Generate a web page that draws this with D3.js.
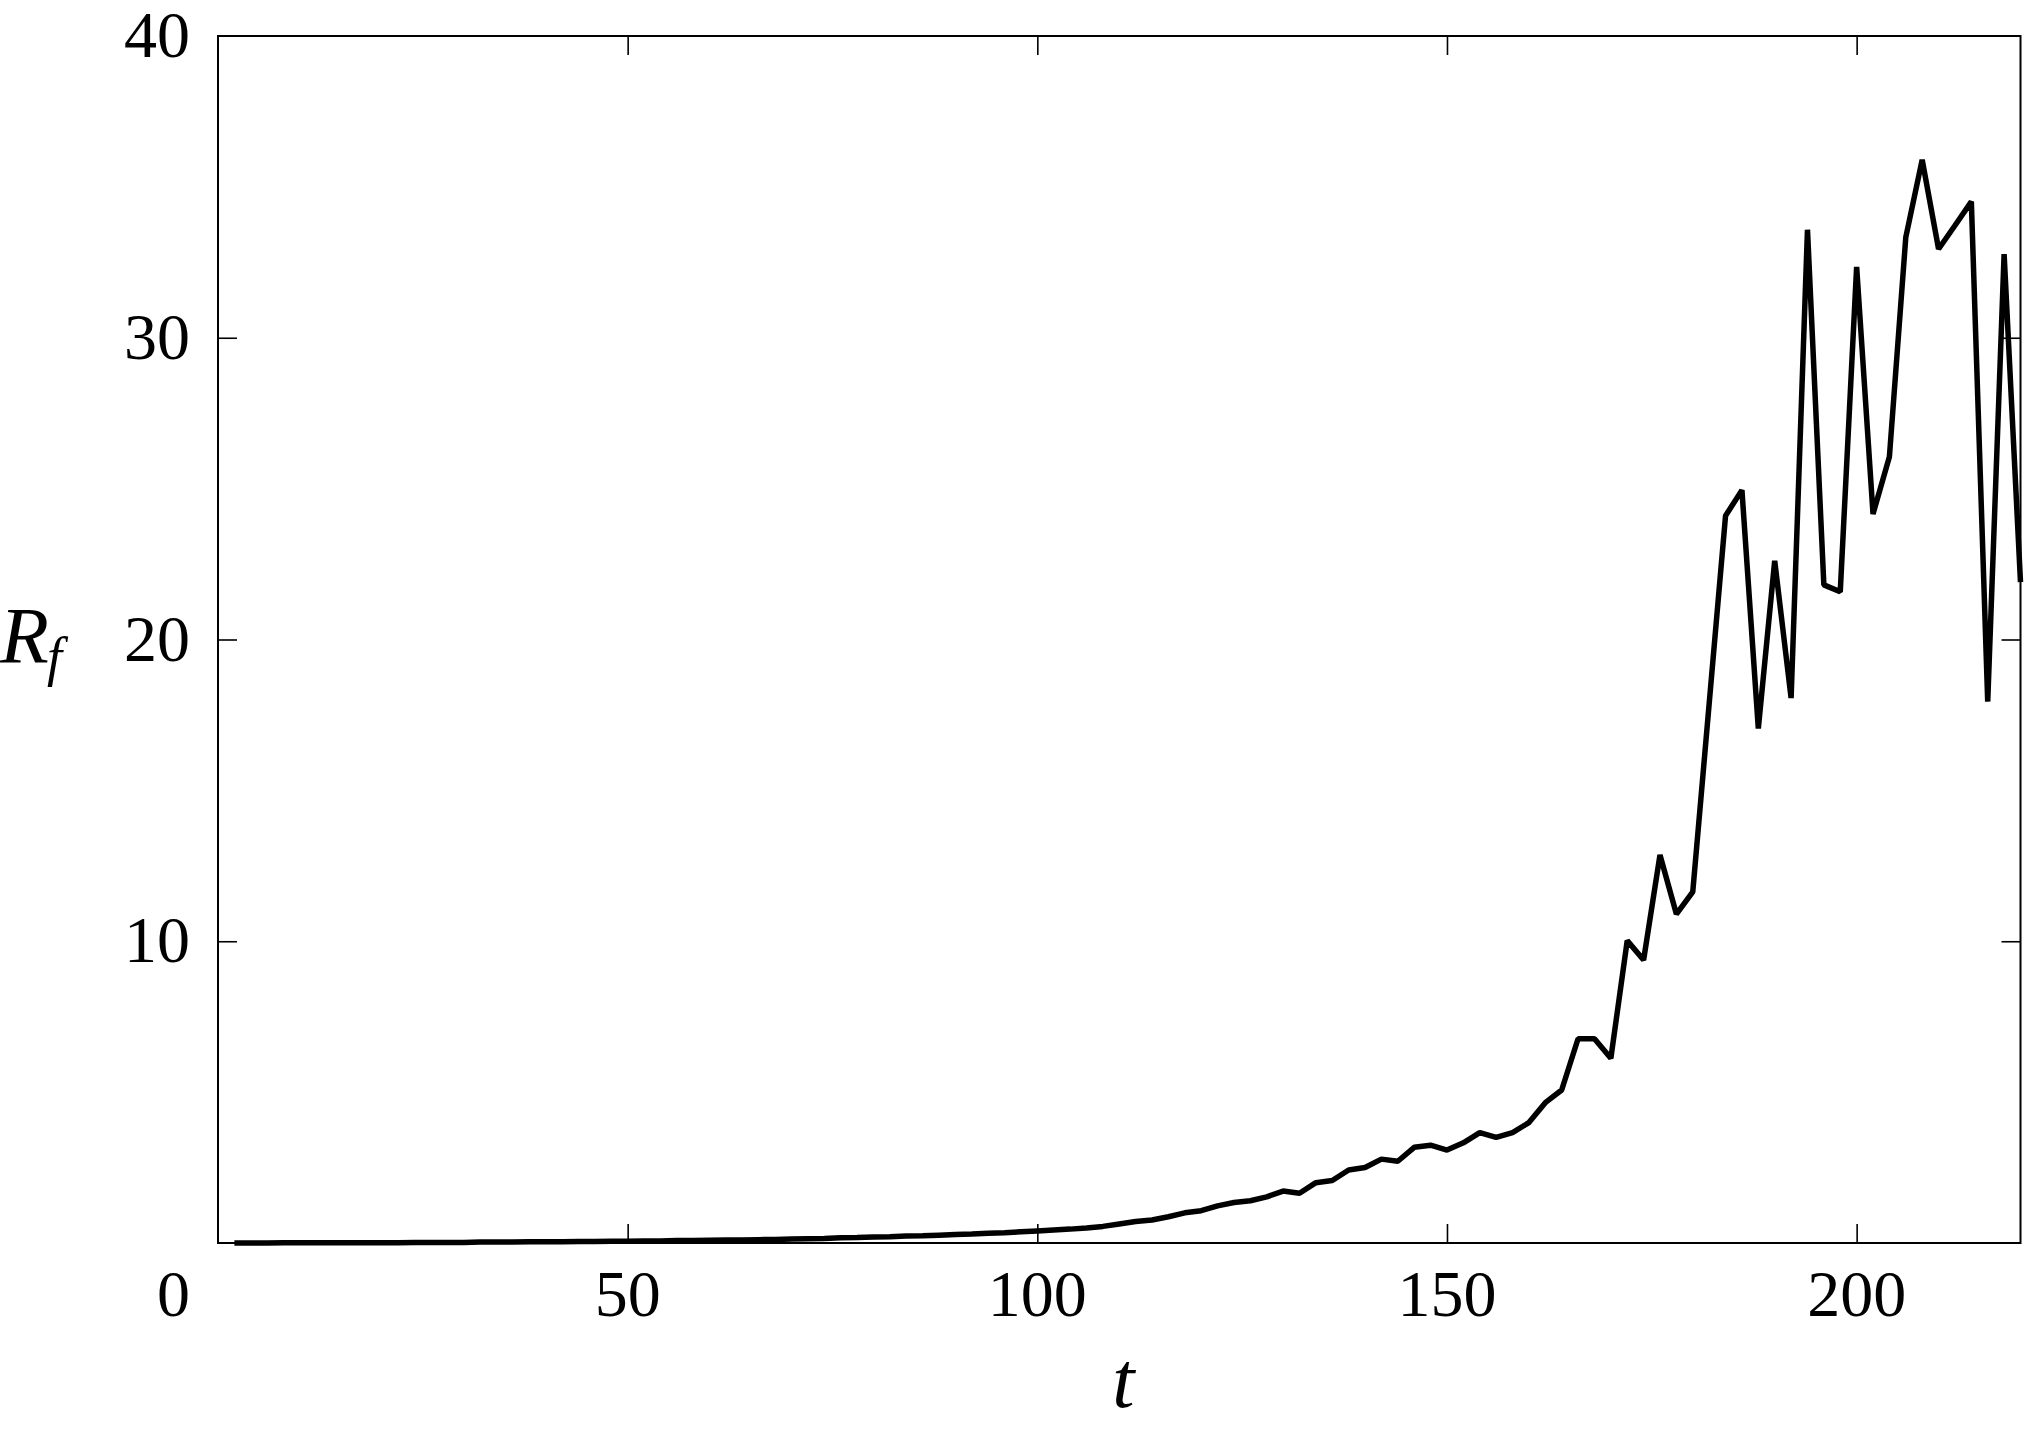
<!DOCTYPE html>
<html>
<head>
<meta charset="utf-8">
<script src="https://d3js.org/d3.v7.min.js"></script>
<style>
  body { margin: 0; background: #fff; }
  text { font-family: "Liberation Serif", "Times New Roman", serif; fill: #000; }
</style>
</head>
<body>
<svg id="myChart"></svg>
<script>

// time samples (every 2 units)
var tValues = d3.range(2, 221, 2);

// R_f, one value per t above
var rfValues = [
  0.00, 0.00, 0.00, 0.01, 0.01, 0.01, 0.01, 0.01, 0.01, 0.01,   // t 2-20
  0.01, 0.02, 0.02, 0.02, 0.02, 0.03, 0.03, 0.03, 0.04, 0.04,   // t 22-40
  0.04, 0.05, 0.05, 0.06, 0.06, 0.07, 0.07, 0.08, 0.08, 0.09,   // t 42-60
  0.10, 0.10, 0.11, 0.12, 0.13, 0.14, 0.15, 0.17, 0.18, 0.20,   // t 62-80
  0.21, 0.23, 0.24, 0.26, 0.28, 0.30, 0.32, 0.34, 0.37, 0.40,   // t 82-100
  0.43, 0.46, 0.50, 0.55, 0.63, 0.71, 0.76, 0.87, 1.00, 1.07,   // t 102-120
  1.23, 1.34, 1.40, 1.53, 1.72, 1.65, 2.00, 2.07, 2.42, 2.50,   // t 122-140
  2.78, 2.71, 3.17, 3.24, 3.08, 3.32, 3.66, 3.50, 3.66, 3.99,   // t 142-160
  4.65, 5.07, 6.77, 6.77, 6.12, 10.02, 9.38, 12.86, 10.90, 11.64, // t 162-180
  17.87, 24.10, 24.95, 17.05, 22.61, 18.06, 33.58, 21.81, 21.58, 32.35, // t 182-200
  24.16, 26.06, 33.33, 35.90, 32.94, 33.72, 34.51, 17.94, 32.77, 21.90  // t 202-220
];

// tick labels
var xTicks = [50, 100, 150, 200];
var yTicks = [10, 20, 30, 40];

var data = tValues.map(function(t, i) { return {t: t, rf: rfValues[i]}; });

var width = 2024,
    height = 1431,
    margin = {top: 36, right: 3.5, bottom: 188, left: 218};

var svg = d3.select("#myChart")
    .attr("width", width)
    .attr("height", height);

svg.append("rect")
    .attr("width", width)
    .attr("height", height)
    .attr("fill", "#fff");

var x = d3.scaleLinear()
    .domain([0, 220])
    .range([margin.left, width - margin.right]);

var y = d3.scaleLinear()
    .domain([0, 40])
    .range([height - margin.bottom, margin.top]);

var tickLen = 19;

// ticks on all four sides, pointing inward
svg.append("g")
    .attr("class", "xaxis-bottom")
    .attr("transform", "translate(0," + y(0) + ")")
    .call(d3.axisBottom(x).tickValues(xTicks).tickSize(-tickLen).tickSizeOuter(0).tickFormat(""));

svg.append("g")
    .attr("class", "xaxis-top")
    .attr("transform", "translate(0," + y(40) + ")")
    .call(d3.axisTop(x).tickValues(xTicks).tickSize(-tickLen).tickSizeOuter(0).tickFormat(""));

svg.append("g")
    .attr("class", "yaxis-left")
    .attr("transform", "translate(" + x(0) + ",0)")
    .call(d3.axisLeft(y).tickValues([10, 20, 30]).tickSize(-tickLen).tickSizeOuter(0).tickFormat(""));

svg.append("g")
    .attr("class", "yaxis-right")
    .attr("transform", "translate(" + x(220) + ",0)")
    .call(d3.axisRight(y).tickValues([10, 20, 30]).tickSize(-tickLen).tickSizeOuter(0).tickFormat(""));

svg.selectAll(".domain").remove();
svg.selectAll(".tick line")
    .attr("stroke", "#000")
    .attr("stroke-width", 1.6);

// x tick labels
svg.append("g")
    .selectAll("text")
    .data(xTicks)
    .enter()
    .append("text")
      .attr("x", function(d) { return x(d); })
      .attr("y", y(0) + 73)
      .attr("text-anchor", "middle")
      .style("font-size", "66px")
      .text(function(d) { return d; });

// y tick labels
svg.append("g")
    .selectAll("text")
    .data(yTicks)
    .enter()
    .append("text")
      .attr("x", x(0) - 28)
      .attr("y", function(d) { return y(d) + 21; })
      .attr("text-anchor", "end")
      .style("font-size", "66px")
      .text(function(d) { return d; });

// the shared 0 sits down on the x label row
svg.append("text")
    .attr("x", x(0) - 28)
    .attr("y", y(0) + 73)
    .attr("text-anchor", "end")
    .style("font-size", "66px")
    .text("0");

// the curve
var line = d3.line()
    .x(function(d) { return x(d.t); })
    .y(function(d) { return y(d.rf); });

svg.append("path")
    .datum(data)
    .attr("d", line)
    .attr("fill", "none")
    .attr("stroke", "#000")
    .attr("stroke-width", 5.5)
    .attr("stroke-linejoin", "bevel");

// frame
svg.append("rect")
    .attr("x", x(0))
    .attr("y", y(40))
    .attr("width", x(220) - x(0))
    .attr("height", y(0) - y(40))
    .attr("fill", "none")
    .attr("stroke", "#000")
    .attr("stroke-width", 2);

// axis titles
svg.append("text")
    .attr("x", (x(0) + x(220)) / 2 + 4)
    .attr("y", 1407)
    .attr("text-anchor", "middle")
    .style("font-size", "80px")
    .style("font-style", "italic")
    .text("t");

var ylab = svg.append("text")
    .attr("x", 0)
    .attr("y", 663)
    .style("font-size", "80px")
    .style("font-style", "italic");
ylab.append("tspan").text("R");
ylab.append("tspan")
    .attr("dy", 12)
    .attr("dx", -2)
    .style("font-size", "54px")
    .text("f");

</script>
</body>
</html>
